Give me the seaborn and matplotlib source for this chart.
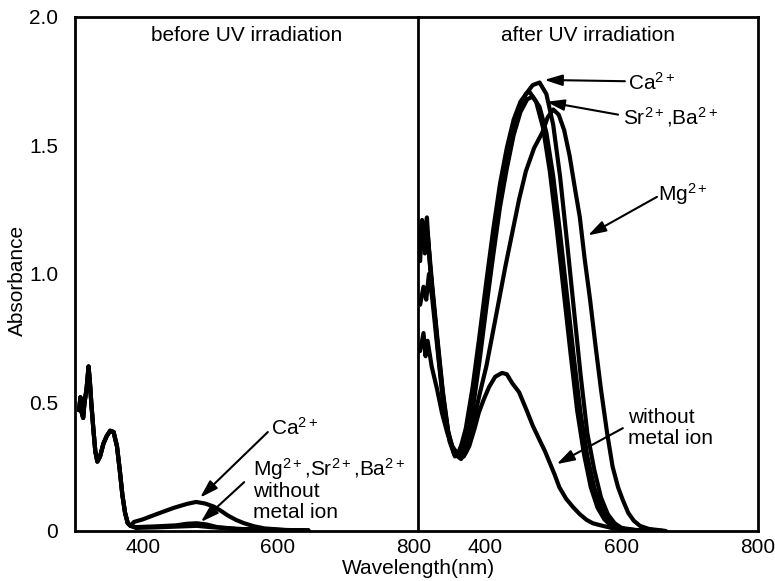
import matplotlib
matplotlib.use("Agg")
import matplotlib.pyplot as plt
import matplotlib.ticker as mticker
import numpy as np
import pandas as pd
import seaborn as sns

sns.set_theme(style="white")
plt.rcParams["font.family"] = ["Liberation Sans", "DejaVu Sans"]
plt.rcParams["mathtext.fontset"] = "custom"
plt.rcParams["mathtext.rm"] = "Liberation Sans"
plt.rcParams["mathtext.it"] = "Liberation Sans:italic"
plt.rcParams["mathtext.bf"] = "Liberation Sans:bold"
plt.rcParams["text.color"] = "black"
plt.rcParams["axes.labelcolor"] = "black"
plt.rcParams["xtick.color"] = "black"
plt.rcParams["ytick.color"] = "black"

# ---------------- data: before UV irradiation ----------------
before_uv_nm = [306, 308, 310, 312, 314, 317, 320, 322, 324, 327, 330, 333, 337, 342,
                347, 352, 357, 362, 366, 370, 374, 378, 382]
before_uv_abs = [0.47, 0.52, 0.46, 0.44, 0.50, 0.55, 0.64, 0.58, 0.50, 0.40, 0.31, 0.27,
                 0.29, 0.34, 0.37, 0.39, 0.385, 0.33, 0.24, 0.14, 0.07, 0.03, 0.02]
before_ca_nm = [387, 400, 420, 446, 465, 479, 492, 505, 516, 526, 538, 550, 565, 580, 610, 645]
before_ca_abs = [0.035, 0.045, 0.065, 0.09, 0.105, 0.113, 0.107, 0.095, 0.078, 0.06, 0.043,
                 0.03, 0.018, 0.01, 0.004, 0.002]
before_mgsrba_nm = [390, 420, 450, 465, 480, 495, 510, 540, 600, 645]
before_mgsrba_abs = [0.015, 0.018, 0.022, 0.028, 0.03, 0.025, 0.015, 0.008, 0.004, 0.002]
before_none_nm = [390, 420, 460, 480, 500, 540, 600, 645]
before_none_abs = [0.012, 0.014, 0.018, 0.02, 0.015, 0.008, 0.004, 0.002]

# ---------------- data: after UV irradiation ----------------
after_ca_nm = [305, 308, 311, 314, 318, 323, 330, 338, 346, 354, 360, 370, 380, 390, 400,
               410, 420, 430, 440, 450, 460, 470, 480, 490, 500, 510, 520, 530, 540, 550,
               560, 570, 580, 590, 600, 620, 660]
after_ca_abs = [1.15, 1.21, 1.12, 1.20, 1.10, 0.95, 0.76, 0.55, 0.39, 0.31, 0.30, 0.36, 0.48,
                0.66, 0.86, 1.06, 1.25, 1.40, 1.53, 1.63, 1.70, 1.735, 1.745, 1.70, 1.58,
                1.38, 1.13, 0.87, 0.61, 0.38, 0.24, 0.13, 0.065, 0.03, 0.012, 0.004, 0.0]
after_sr_nm = [305, 309, 312, 316, 320, 325, 332, 340, 348, 356, 362, 372, 382, 392, 402,
               412, 422, 432, 442, 452, 460, 465, 475, 485, 495, 505, 515, 525, 535, 545,
               555, 565, 575, 585, 600, 620, 660]
after_sr_abs = [1.10, 1.20, 1.08, 1.16, 1.02, 0.88, 0.68, 0.48, 0.35, 0.29, 0.30, 0.40, 0.56,
                0.76, 0.97, 1.17, 1.35, 1.49, 1.60, 1.67, 1.70, 1.71, 1.67, 1.57, 1.40, 1.18,
                0.94, 0.70, 0.47, 0.30, 0.17, 0.09, 0.045, 0.02, 0.006, 0.002, 0.0]
after_ba_nm = [305, 308, 312, 315, 319, 324, 331, 339, 347, 355, 363, 372, 382, 392, 402,
               412, 422, 432, 442, 452, 462, 470, 480, 490, 500, 510, 520, 530, 540, 550,
               560, 570, 580, 590, 605, 625, 660]
after_ba_abs = [1.05, 1.18, 1.15, 1.22, 1.05, 0.90, 0.72, 0.52, 0.37, 0.30, 0.29, 0.34, 0.47,
                0.66, 0.87, 1.07, 1.26, 1.41, 1.54, 1.63, 1.68, 1.69, 1.65, 1.55, 1.38, 1.16,
                0.92, 0.68, 0.46, 0.29, 0.17, 0.09, 0.045, 0.02, 0.007, 0.002, 0.0]
after_mg_nm = [305, 310, 314, 318, 323, 330, 338, 346, 355, 365, 373, 382, 392, 402, 415,
               430, 440, 450, 460, 472, 484, 492, 500, 508, 516, 524, 532, 539, 546, 554,
               562, 570, 579, 587, 595, 602, 610, 618, 627, 640, 665]
after_mg_abs = [0.88, 0.95, 0.90, 1.00, 0.90, 0.72, 0.52, 0.38, 0.30, 0.28, 0.31, 0.41, 0.53,
                0.64, 0.82, 1.03, 1.16, 1.29, 1.40, 1.49, 1.55, 1.61, 1.64, 1.62, 1.56, 1.46,
                1.33, 1.22, 1.06, 0.90, 0.72, 0.55, 0.38, 0.25, 0.17, 0.12, 0.07, 0.04, 0.02,
                0.008, 0.0]
after_none_nm = [305, 310, 313, 316, 322, 330, 337, 345, 352, 360, 369, 377, 385, 391, 398,
                 406, 415, 425, 432, 440, 450, 461, 470, 480, 488, 495, 502, 509, 519, 529,
                 539, 549, 558, 568, 585, 610, 650]
after_none_abs = [0.70, 0.77, 0.68, 0.74, 0.64, 0.55, 0.46, 0.38, 0.33, 0.30, 0.29, 0.33,
                  0.40, 0.46, 0.51, 0.56, 0.60, 0.615, 0.61, 0.575, 0.54, 0.47, 0.41, 0.354,
                  0.31, 0.265, 0.22, 0.17, 0.125, 0.093, 0.065, 0.043, 0.03, 0.023, 0.012,
                  0.005, 0.0]

x_ticks = [300, 400, 500, 600, 700, 800]
x_tick_labels = ["", "400", "", "600", "", "800"]
y_ticks = [0, 0.5, 1.0, 1.5, 2.0]
y_tick_labels = ["0", "0.5", "1.0", "1.5", "2.0"]


def frame(series):
    parts = []
    for name, nm, ab in series:
        parts.append(pd.DataFrame({"nm": nm, "abs": ab, "series": name}))
    return pd.concat(parts, ignore_index=True)


before_df = frame([
    ("Ca", before_uv_nm + before_ca_nm, before_uv_abs + before_ca_abs),
    ("Mg/Sr/Ba", before_uv_nm + before_mgsrba_nm, before_uv_abs + before_mgsrba_abs),
    ("none", before_uv_nm + before_none_nm, before_uv_abs + before_none_abs),
])
after_df = frame([
    ("Ca", after_ca_nm, after_ca_abs),
    ("Sr", after_sr_nm, after_sr_abs),
    ("Ba", after_ba_nm, after_ba_abs),
    ("Mg", after_mg_nm, after_mg_abs),
    ("none", after_none_nm, after_none_abs),
])

fig = plt.figure(figsize=(7.75, 5.81), dpi=100)
ax1 = fig.add_axes([0.0968, 0.0861, 0.4426, 0.8847])
ax2 = fig.add_axes([0.5394, 0.0861, 0.4387, 0.8847])

for ax, df, xlim in ((ax1, before_df, (300, 807)), (ax2, after_df, (302, 800))):
    sns.lineplot(data=df, x="nm", y="abs", units="series", estimator=None, sort=False,
                 color="black", lw=3, ax=ax, legend=False)
    ax.set_xlim(*xlim)
    ax.set_ylim(0, 2.0)
    ax.set_xlabel("")
    ax.set_ylabel("")
    ax.xaxis.set_major_locator(mticker.FixedLocator(x_ticks))
    ax.xaxis.set_major_formatter(mticker.FixedFormatter(x_tick_labels))
    ax.yaxis.set_major_locator(mticker.FixedLocator(y_ticks))
    ax.yaxis.set_major_formatter(mticker.FixedFormatter(y_tick_labels))
    ax.tick_params(axis="both", direction="in", length=3, width=2.5, color="black",
                   labelsize=15, labelcolor="black")
    ax.tick_params(axis="x", pad=5)
    ax.tick_params(axis="y", pad=12)
    for side in ("left", "bottom", "top", "right"):
        ax.spines[side].set_color("black")
        ax.spines[side].set_linewidth(2)

ax2.tick_params(axis="y", labelleft=False)
ax1.spines["right"].set_visible(False)

ax1.text(0.5, 0.963, "before UV irradiation", transform=ax1.transAxes, ha="center",
         va="center", fontsize=15)
ax2.text(0.5, 0.963, "after UV irradiation", transform=ax2.transAxes, ha="center",
         va="center", fontsize=15)

arrow = dict(arrowstyle="-|>,head_length=0.9,head_width=0.28", color="black", lw=1.5,
             shrinkA=0, shrinkB=0)
fs = 15

# left panel annotations
ax1.text(589, 0.40, "Ca$^{2+}$", fontsize=fs, ha="left", va="center")
ax1.annotate("", xy=(485, 0.13), xytext=(585, 0.385), arrowprops=arrow)
ax1.text(563, 0.24, "Mg$^{2+}$,Sr$^{2+}$,Ba$^{2+}$", fontsize=fs, ha="left", va="center",
         clip_on=False)
ax1.text(563, 0.155, "without", fontsize=fs, ha="left", va="center")
ax1.text(563, 0.07, "metal ion", fontsize=fs, ha="left", va="center")
ax1.annotate("", xy=(486, 0.035), xytext=(550, 0.19), arrowprops=arrow)

# right panel annotations
ax2.text(610, 1.745, "Ca$^{2+}$", fontsize=fs, ha="left", va="center")
ax2.annotate("", xy=(487, 1.755), xytext=(605, 1.75), arrowprops=arrow)
ax2.text(602, 1.61, "Sr$^{2+}$,Ba$^{2+}$", fontsize=fs, ha="left", va="center")
ax2.annotate("", xy=(490, 1.67), xytext=(595, 1.62), arrowprops=arrow)
ax2.text(654, 1.31, "Mg$^{2+}$", fontsize=fs, ha="left", va="center")
ax2.annotate("", xy=(551, 1.15), xytext=(652, 1.30), arrowprops=arrow)
ax2.text(610, 0.44, "without", fontsize=fs, ha="left", va="center")
ax2.text(610, 0.36, "metal ion", fontsize=fs, ha="left", va="center")
ax2.annotate("", xy=(505, 0.26), xytext=(602, 0.40), arrowprops=arrow)

fig.text(418 / 775, 1 - 569 / 581, "Wavelength(nm)", ha="center", va="center", fontsize=15)
fig.text(17 / 775, 1 - 280 / 581, "Absorbance", ha="center", va="center", rotation=90,
         fontsize=15)

fig.savefig("out.png", dpi=100)
